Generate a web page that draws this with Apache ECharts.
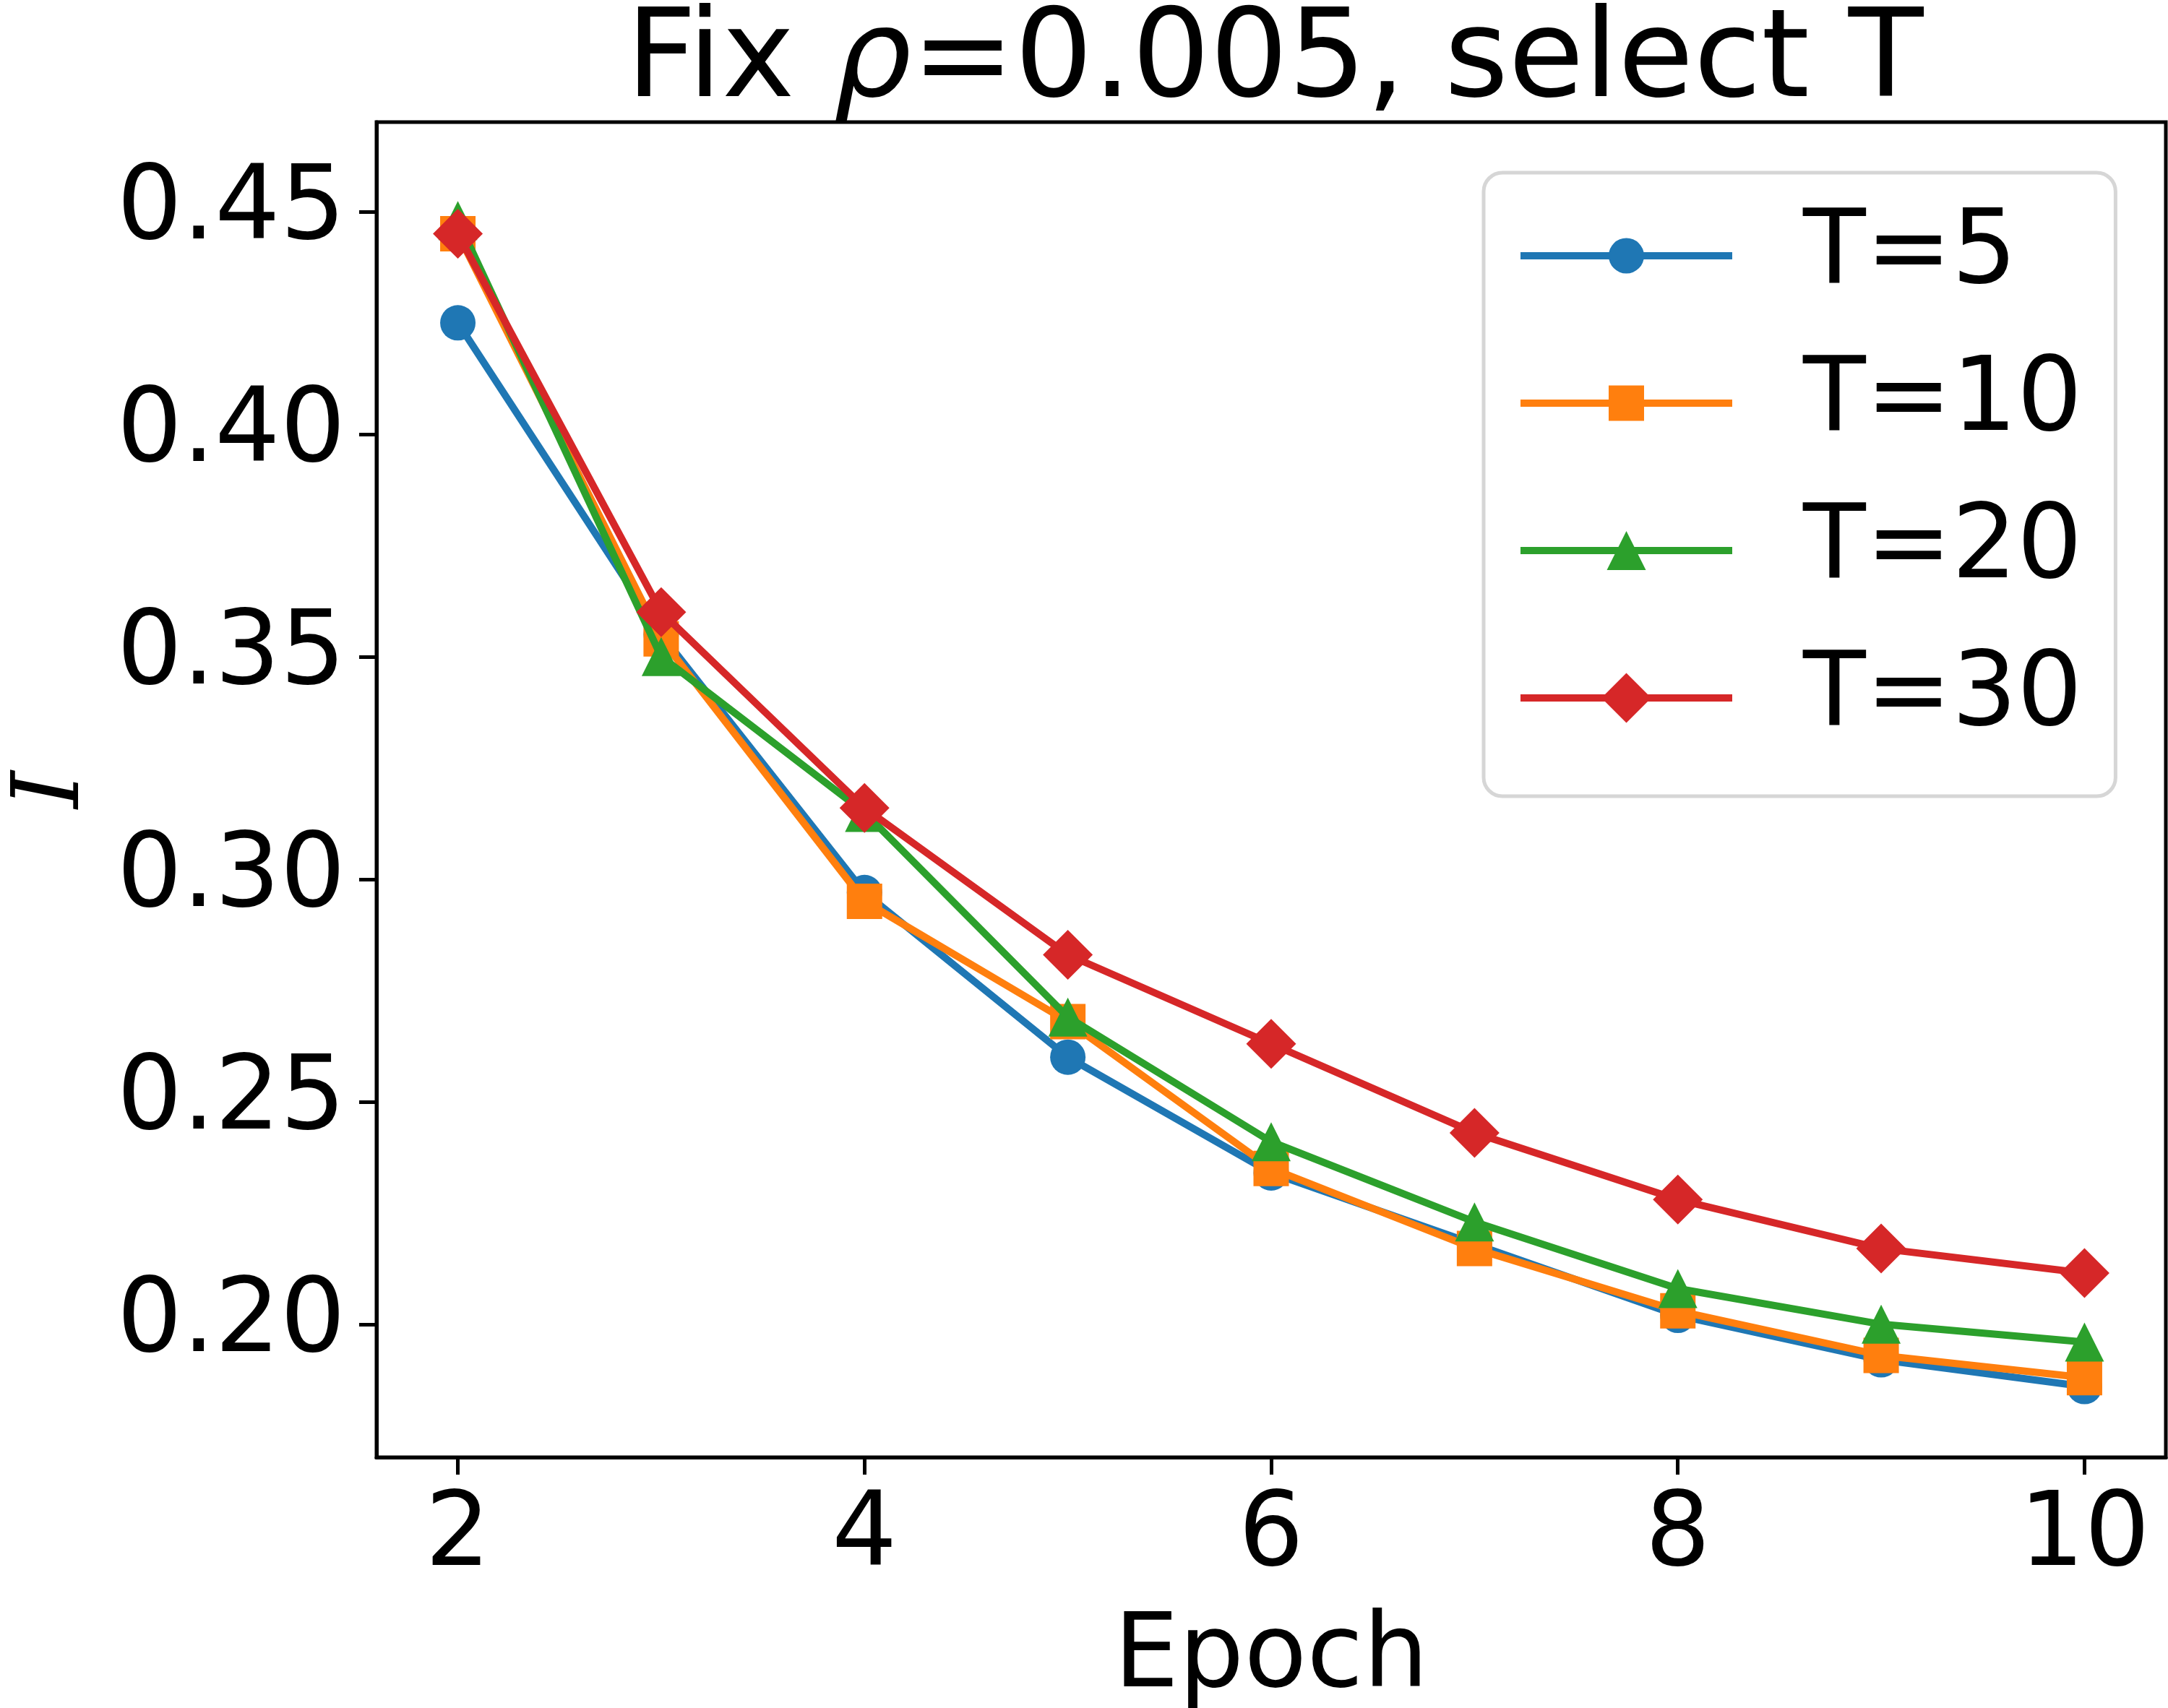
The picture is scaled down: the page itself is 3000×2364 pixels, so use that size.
<!DOCTYPE html>
<html>
<head>
<meta charset="utf-8">
<script src="https://cdn.jsdelivr.net/npm/echarts@6/dist/echarts.min.js"></script>
<style>
html,body{margin:0;padding:0;background:#fff;}
#c{width:3000px;height:2364px;}
</style>
</head>
<body>
<div id="c"></div>
<script>
// ---- data ----
const epochs = [2, 3, 4, 5, 6, 7, 8, 9, 10];
const seriesNames = ['T=5', 'T=10', 'T=20', 'T=30'];
const t5  = [0.425, 0.355, 0.297, 0.260, 0.234, 0.218, 0.202, 0.192, 0.186];
const t10 = [0.445, 0.354, 0.295, 0.268, 0.235, 0.217, 0.203, 0.193, 0.188];
const t20 = [0.448, 0.350, 0.315, 0.269, 0.241, 0.223, 0.208, 0.200, 0.196];
const t30 = [0.445, 0.360, 0.316, 0.283, 0.263, 0.243, 0.228, 0.217, 0.2115];
const xTicks = [2, 4, 6, 8, 10];
const yTicks = [0.20, 0.25, 0.30, 0.35, 0.40, 0.45];

const colors = ['#1f77b4', '#ff7f0e', '#2ca02c', '#d62728'];
const symbols = ['circle', 'rect', 'triangle', 'diamond'];
const symbolSizes = [49, 49, 54, 69];
const allValues = [t5, t10, t20, t30];
const legendIcons = [
  'path://M0,19.5L293,19.5L293,29.5L0,29.5Z M122,24.5A24.5,24.5 0 1,1 171,24.5A24.5,24.5 0 1,1 122,24.5Z',
  'path://M0,19.5L293,19.5L293,29.5L0,29.5Z M122,0L171,0L171,49L122,49Z',
  'path://M0,22L293,22L293,32L0,32Z M146.5,0L173.5,54L119.5,54Z',
  'path://M0,29.5L293,29.5L293,39.5L0,39.5Z M112,34.5L146.5,0L181,34.5L146.5,69Z'
];

const FONT = 'DejaVu Sans';
const FS = 142;

const chart = echarts.init(document.getElementById('c'), null, {renderer: 'canvas', devicePixelRatio: 1});

const series = allValues.map((vals, i) => ({
  name: seriesNames[i],
  type: 'line',
  data: epochs.map((e, j) => [e, vals[j]]),
  symbol: symbols[i],
  symbolSize: symbolSizes[i],
  showSymbol: true,
  color: colors[i],
  lineStyle: {width: 10, color: colors[i]},
  itemStyle: {color: colors[i]},
  emphasis: {disabled: true},
  animation: false,
  z: 2 + i
}));

chart.setOption({
  backgroundColor: '#ffffff',
  animation: false,
  title: {
    text: '{a|Fix }{i|ρ}{a|=0.005, select T}',
    left: 1759,
    textAlign: 'center',
    top: -1,
    textStyle: {
      fontWeight: 'normal',
      rich: {
        a: {fontFamily: FONT, fontSize: 170, fontWeight: 'normal', color: '#000'},
        i: {fontFamily: FONT, fontSize: 170, fontWeight: 'normal', fontStyle: 'italic', color: '#000'}
      }
    }
  },
  grid: {
    left: 521, right: 3, top: 169, bottom: 347,
    show: true, borderColor: '#000', borderWidth: 5,
    containLabel: false,
    outerBoundsMode: 'none'
  },
  legend: {
    orient: 'vertical',
    left: 2053,
    top: 239,
    padding: [44, 46, 65, 51],
    itemWidth: 293,
    itemHeight: 69,
    itemGap: 62,
    symbolKeepAspect: true,
    backgroundColor: 'rgba(255,255,255,0.8)',
    borderColor: '#d6d6d6',
    borderWidth: 5,
    borderRadius: 26,
    textStyle: {fontFamily: FONT, fontSize: FS, color: '#000', lineHeight: 142, padding: [0, 0, 0, 93]},
    data: seriesNames.map((n, i) => ({name: n, icon: legendIcons[i]}))
  },
  xAxis: {
    type: 'value',
    min: 1.6, max: 10.4,
    name: 'Epoch',
    nameLocation: 'middle',
    nameGap: 209,
    nameTextStyle: {fontFamily: FONT, fontSize: FS, color: '#000'},
    axisLine: {show: true, lineStyle: {color: '#000', width: 5}},
    axisTick: {show: true, customValues: xTicks, length: 24, lineStyle: {color: '#000', width: 5}},
    axisLabel: {customValues: xTicks, fontFamily: FONT, fontSize: FS, color: '#000', margin: 41},
    splitLine: {show: false}
  },
  yAxis: {
    type: 'value',
    min: 0.1701, max: 0.4701,
    name: 'I',
    nameLocation: 'middle',
    nameGap: 382,
    nameRotate: 90,
    nameTextStyle: {fontFamily: 'DejaVu Serif', fontStyle: 'italic', fontSize: 130, color: '#000'},
    axisLine: {show: true, lineStyle: {color: '#000', width: 5}},
    axisTick: {show: true, customValues: yTicks, length: 24, lineStyle: {color: '#000', width: 5}},
    axisLabel: {customValues: yTicks, fontFamily: FONT, fontSize: FS, color: '#000', margin: 43,
      formatter: v => v.toFixed(2)},
    splitLine: {show: false}
  },
  series: series
});
</script>
</body>
</html>
